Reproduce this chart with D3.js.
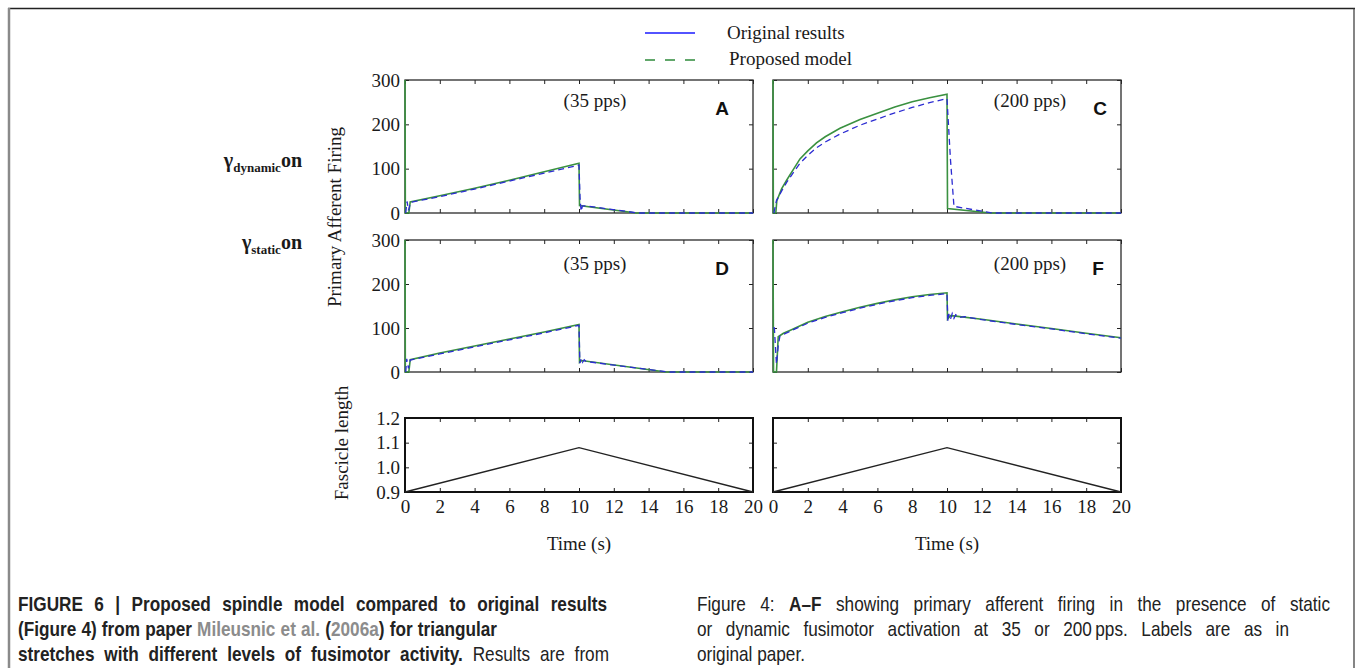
<!DOCTYPE html>
<html>
<head>
<meta charset="utf-8">
<script src="https://cdn.jsdelivr.net/npm/d3@7"></script>
<style>
  body { margin: 0; background: #fff; }
  .serif { font-family: "Liberation Serif", "DejaVu Serif", serif; fill: #1a1a1a; }
  .cap { font-family: "Liberation Sans", Arial, sans-serif; font-size: 20px; fill: #222; white-space: pre; }
  .cap .b { font-weight: 700; }
  .cap .ref { fill: #8c8c8c; font-weight: 700; }
  .tick line { stroke: #222; stroke-width: 1; }
</style>
</head>
<body>
<svg id="fig" width="1356" height="668"></svg>
<script>
// ---- data -------------------------------------------------------------
const timeTicks    = [0, 2, 4, 6, 8, 10, 12, 14, 16, 18, 20];
const firingTicks  = [0, 100, 200, 300];
const lengthTicks  = [0.9, 1.0, 1.1, 1.2];
const rateLabels   = ["(35 pps)", "(200 pps)"];
const panelLetters = ["A", "C", "D", "F"];
const rowLabels    = [["γ", "dynamic", "on"], ["γ", "static", "on"]];
const legendLabels = ["Original results", "Proposed model"];

// [time (s), primary afferent firing (pps)]
// A: dynamic fusimotor, 35 pps
const modelA = [[0,300],[0.02,0],[0.22,0],[0.3,25],[2,39],[4,56],[6,74],[8,93],[10,112],[10.03,17],[13.3,0],[20,0]];
const origA  = [[0.04,0],[0.12,26],[0.2,6],[0.32,24],[2,37],[4,54],[6,72],[8,90],[10,108],[10.06,35],[10.12,4],[10.2,16],[10.4,16],[13.4,0],[20,0]];
// C: dynamic fusimotor, 200 pps
const modelC = [[0,300],[0.02,0],[0.16,0],[0.22,28],[0.5,55],[0.8,75],[1.2,100],[1.55,122],[2,140],[2.5,158],[3,172],[3.85,191],[5,211],[6,225],[7,239],[8,251],[9,260],[10,268],[10.03,10],[12.5,0],[20,0]];
const origC  = [[0.05,0],[0.2,28],[0.5,50],[0.8,70],[1.2,93],[1.55,112],[2,130],[2.5,147],[3,160],[3.85,178],[5,198],[6,212],[7,226],[8,238],[9,249],[10,258],[10.2,120],[10.4,15],[12.6,0],[20,0]];
// D: static fusimotor, 35 pps
const modelD = [[0,300],[0.02,0],[0.22,0],[0.3,28],[2,43],[4,59],[6,75],[8,91],[10,108],[10.03,22],[10.15,26],[15,0],[20,0]];
const origD  = [[0.04,0],[0.1,30],[0.2,8],[0.3,27],[2,41],[4,57],[6,73],[8,89],[10,106],[10.05,20],[10.12,30],[10.2,22],[10.3,28],[10.4,24],[15.1,0],[20,0]];
// F: static fusimotor, 200 pps
const modelF = [[0,300],[0.03,0],[0.2,0],[0.3,80],[0.6,88],[1,95],[2,113],[3,126],[4,137],[5,147],[6,156],[7,164],[8,171],[9,176],[10,180],[10.03,120],[10.2,128],[10.5,127],[12,120],[14,109],[16,99],[18,88],[20,78]];
const origF  = [[0.02,100],[0.08,100],[0.15,50],[0.2,18],[0.3,60],[0.4,82],[1,93],[2,111],[3,124],[4,135],[5,145],[6,154],[7,162],[8,169],[9,174],[10,178],[10.05,115],[10.1,132],[10.2,120],[10.3,133],[10.4,122],[10.5,130],[10.7,124],[11,126],[12,119],[14,108],[16,98],[18,87],[20,77]];
// Fascicle length during the triangular stretch
const stretch = [[0,0.9],[10,1.08],[20,0.9]];

// ---- layout -----------------------------------------------------------
const svg = d3.select("#fig");
svg.append("rect").attr("width", 1356).attr("height", 668).attr("fill", "#fff");

const GREEN = "#3a9140", BLUE = "#2c2cd2";
const colX = [405, 773], panelW = 348;
const rows = [{ top: 80, h: 133, rateY: 107 }, { top: 240, h: 132, rateY: 270 }];
const lenRow = { top: 418, h: 74 };

// figure frame
svg.append("line").attr("x1", 8).attr("x2", 1355).attr("y1", 8.5).attr("y2", 8.5).attr("stroke", "#222").attr("stroke-width", 1.5);
svg.append("line").attr("x1", 9).attr("x2", 9).attr("y1", 8).attr("y2", 668).attr("stroke", "#8a8a8a").attr("stroke-width", 2.5);
svg.append("line").attr("x1", 1354).attr("x2", 1354).attr("y1", 8).attr("y2", 668).attr("stroke", "#333").attr("stroke-width", 1.2);

function axes(g, x, y, yTicks, opt) {
  const strip = s => s.call(a => a.select(".domain").remove());
  g.append("g").attr("transform", `translate(0,${y.range()[0]})`)
    .call(d3.axisBottom(x).tickValues(timeTicks).tickSize(-4).tickPadding(8)
      .tickFormat(opt.xLabels ? d3.format("d") : () => ""))
    .call(strip);
  g.append("g").attr("transform", `translate(0,${y.range()[1]})`)
    .call(d3.axisTop(x).tickValues(timeTicks).tickSize(-4).tickFormat(() => "")).call(strip);
  g.append("g").attr("transform", `translate(${x.range()[0]},0)`)
    .call(d3.axisLeft(y).tickValues(yTicks).tickSize(-4).tickPadding(5)
      .tickFormat(opt.yLabels ? opt.yFormat : () => ""))
    .call(strip);
  g.append("g").attr("transform", `translate(${x.range()[1]},0)`)
    .call(d3.axisRight(y).tickValues(yTicks).tickSize(-4).tickFormat(() => "")).call(strip);
  g.selectAll(".tick text").attr("class", "serif").style("font-size", "19px").attr("fill", "#1a1a1a");
  g.append("rect")
    .attr("x", x.range()[0]).attr("y", y.range()[1])
    .attr("width", x.range()[1] - x.range()[0]).attr("height", y.range()[0] - y.range()[1])
    .attr("fill", "none").attr("stroke", opt.frame).attr("stroke-width", opt.frameW);
}

const firingPanels = [
  { row: 0, col: 0, model: modelA, orig: origA, letter: panelLetters[0], letterX: 722, rate: rateLabels[0], rateX: 595 },
  { row: 0, col: 1, model: modelC, orig: origC, letter: panelLetters[1], letterX: 1100, rate: rateLabels[1], rateX: 1030 },
  { row: 1, col: 0, model: modelD, orig: origD, letter: panelLetters[2], letterX: 722, rate: rateLabels[0], rateX: 595 },
  { row: 1, col: 1, model: modelF, orig: origF, letter: panelLetters[3], letterX: 1098, rate: rateLabels[1], rateX: 1030 }
];

firingPanels.forEach((p, i) => {
  const r = rows[p.row];
  const x = d3.scaleLinear().domain([0, 20]).range([colX[p.col], colX[p.col] + panelW]);
  const y = d3.scaleLinear().domain([0, 300]).range([r.top + r.h, r.top]);
  const g = svg.append("g");
  const clipId = "clip" + i;
  svg.append("clipPath").attr("id", clipId).append("rect")
    .attr("x", x.range()[0] - 1).attr("y", r.top - 1).attr("width", panelW + 2).attr("height", r.h + 2);
  const line = d3.line().x(d => x(d[0])).y(d => y(d[1]));
  axes(g, x, y, firingTicks, { xLabels: false, yLabels: p.col === 0, yFormat: d3.format("d"), frame: "#2a2a2a", frameW: 1.3 });
  const lines = g.append("g").attr("clip-path", `url(#${clipId})`);
  lines.append("path").attr("d", line(p.model)).attr("fill", "none").attr("stroke", GREEN).attr("stroke-width", 1.6);
  lines.append("path").attr("d", line(p.orig)).attr("fill", "none").attr("stroke", BLUE).attr("stroke-width", 1.3).attr("stroke-dasharray", "6,4");
  g.append("text").attr("class", "serif").attr("x", p.rateX).attr("y", r.rateY)
    .attr("text-anchor", "middle").style("font-size", "19px").text(p.rate);
  g.append("text").attr("x", p.letterX).attr("y", r.top + 35).attr("text-anchor", "middle")
    .style("font-family", "Liberation Sans, Arial, sans-serif").style("font-weight", 700).style("font-size", "19px")
    .attr("fill", "#111").text(p.letter);
});

// fascicle length panels
colX.forEach(cx => {
  const x = d3.scaleLinear().domain([0, 20]).range([cx, cx + panelW]);
  const y = d3.scaleLinear().domain([0.9, 1.2]).range([lenRow.top + lenRow.h, lenRow.top]);
  const g = svg.append("g");
  axes(g, x, y, lengthTicks, { xLabels: true, yLabels: cx === colX[0], yFormat: d3.format(".1f"), frame: "#111", frameW: 2 });
  g.append("path").attr("d", d3.line().x(d => x(d[0])).y(d => y(d[1]))(stretch))
    .attr("fill", "none").attr("stroke", "#222").attr("stroke-width", 1.3);
  g.append("text").attr("class", "serif").attr("x", cx + panelW / 2).attr("y", 550)
    .attr("text-anchor", "middle").style("font-size", "19px").text("Time (s)");
});

// axis titles
svg.append("text").attr("class", "serif").attr("transform", "translate(341,217) rotate(-90)")
  .attr("text-anchor", "middle").style("font-size", "19px").text("Primary Afferent Firing");
svg.append("text").attr("class", "serif").attr("transform", "translate(348,443) rotate(-90)")
  .attr("text-anchor", "middle").style("font-size", "19px").text("Fascicle length");

// row labels (fusimotor condition)
rowLabels.forEach((lab, i) => {
  const t = svg.append("text").attr("class", "serif").attr("x", 302).attr("y", [167, 249][i])
    .attr("text-anchor", "end").style("font-weight", 700);
  t.append("tspan").style("font-size", "20px").text(lab[0]);
  t.append("tspan").style("font-size", "13px").attr("dy", 5).text(lab[1]);
  t.append("tspan").style("font-size", "20px").attr("dy", -5).text(lab[2]);
});

// legend
const legend = svg.append("g");
legend.append("line").attr("x1", 645).attr("x2", 695).attr("y1", 33).attr("y2", 33).attr("stroke", "#1a1aff").attr("stroke-width", 1.6);
legend.append("line").attr("x1", 645).attr("x2", 695).attr("y1", 60).attr("y2", 60).attr("stroke", "#2e8b3a").attr("stroke-width", 1.6).attr("stroke-dasharray", "10,10");
legend.append("text").attr("class", "serif").attr("x", 727).attr("y", 39).style("font-size", "19px").text(legendLabels[0]);
legend.append("text").attr("class", "serif").attr("x", 729).attr("y", 65).style("font-size", "19px").text(legendLabels[1]);

// caption: condensed sans, justified lines stretched by word spacing
const CAP_SX = 0.86;
function captionLine(segs, x, y, width) {
  const g = svg.append("g").attr("transform", `translate(${x},${y}) scale(${CAP_SX},1)`);
  const t = g.append("text").attr("class", "cap");
  segs.forEach(([s, cls]) => t.append("tspan").attr("class", cls || null).text(s));
  if (width) {
    const target = width / CAP_SX;
    const len = t.node().getComputedTextLength();
    const spaces = (segs.map(d => d[0]).join("").match(/ /g) || []).length;
    if (len < target) t.style("word-spacing", ((target - len) / spaces) + "px");
    else t.attr("textLength", target).attr("lengthAdjust", "spacingAndGlyphs");
  }
}
captionLine([["FIGURE 6 | Proposed spindle model compared to original results", "b"]], 18, 611, 589);
captionLine([["(Figure 4) from paper ", "b"], ["Mileusnic et al.", "ref"], [" (", "b"], ["2006a", "ref"], [") for triangular", "b"]], 18, 636, 479);
captionLine([["stretches with different levels of fusimotor activity.", "b"], [" Results are from"]], 18, 661, 591);
captionLine([["Figure 4: "], ["A–F", "b"], [" showing primary afferent firing in the presence of static"]], 697, 611, 633);
captionLine([["or dynamic fusimotor activation at 35 or 200\u2009pps. Labels are as in"]], 697, 636, 592);
captionLine([["original paper."]], 697, 661, null);
</script>
</body>
</html>
